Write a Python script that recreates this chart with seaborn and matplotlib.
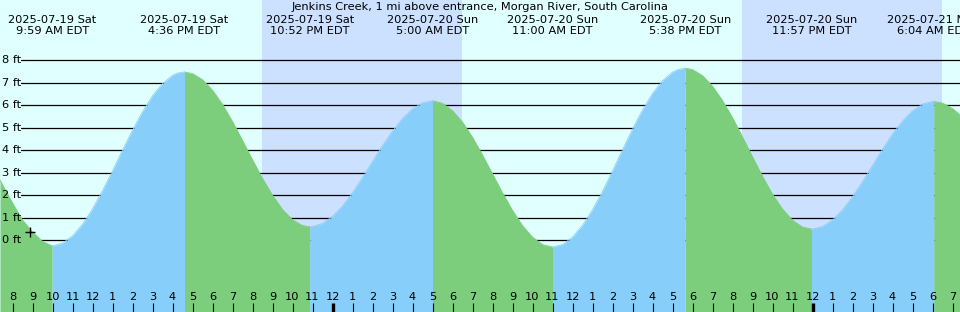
import numpy as np
import pandas as pd
import seaborn as sns
import matplotlib
matplotlib.use("Agg")
import matplotlib.pyplot as plt

title = "Jenkins Creek, 1 mi above entrance, Morgan River, South Carolina"

# hours after 2025-07-19 00:00 EDT, tide height in ft
hours = [7.375, 7.5, 8, 8.5, 9, 9.5, 9.983, 10, 10.5, 11, 11.5, 12, 12.5, 13,
         13.5, 14, 14.5, 15, 15.5, 16, 16.25, 16.6, 17, 17.5, 18, 18.5, 19,
         19.5, 20, 20.5, 21, 21.5, 22, 22.5, 22.867, 23, 23.5, 24, 24.5, 25,
         25.5, 26, 26.5, 27, 27.5, 28, 28.5, 29, 29.5, 30, 30.5, 31, 31.5, 32,
         32.5, 33, 33.5, 34, 34.5, 35, 35.5, 36, 36.5, 37, 37.5, 38, 38.5, 39,
         39.5, 40, 40.5, 41, 41.25, 41.633, 42, 42.5, 43, 43.5, 44, 44.5, 45,
         45.5, 46, 46.5, 47, 47.5, 47.95, 48, 48.5, 49, 49.5, 50, 50.5, 51,
         51.5, 52, 52.5, 53, 53.5, 54, 54.067, 54.5, 55, 55.375]
heights = [2.68, 2.47, 1.66, 0.90, 0.37, -0.05, -0.25, -0.25, -0.13, 0.19, 0.71,
           1.39, 2.20, 3.08, 4.00, 4.89, 5.71, 6.42, 6.96, 7.33, 7.43, 7.48,
           7.41, 7.14, 6.67, 6.04, 5.28, 4.44, 3.58, 2.75, 2.00, 1.37, 0.91,
           0.66, 0.60, 0.61, 0.75, 1.06, 1.52, 2.11, 2.78, 3.50, 4.20, 4.85,
           5.41, 5.84, 6.11, 6.20, 6.09, 5.76, 5.25, 4.58, 3.79, 2.95, 2.11,
           1.33, 0.65, 0.14, -0.19, -0.30, -0.19, 0.14, 0.66, 1.35, 2.17, 3.08,
           4.02, 4.94, 5.79, 6.52, 7.09, 7.47, 7.58, 7.65, 7.59, 7.32, 6.85,
           6.21, 5.45, 4.59, 3.71, 2.84, 2.05, 1.39, 0.89, 0.59, 0.50, 0.50,
           0.61, 0.90, 1.35, 1.93, 2.60, 3.32, 4.04, 4.72, 5.30, 5.75, 6.05,
           6.17, 6.17, 6.10, 5.86, 5.57]

extreme_hours = [9.983, 16.6, 22.867, 29.0, 35.0, 41.633, 47.95, 54.067]
extreme_dates = ["2025-07-19 Sat", "2025-07-19 Sat", "2025-07-19 Sat",
                 "2025-07-20 Sun", "2025-07-20 Sun", "2025-07-20 Sun",
                 "2025-07-20 Sun", "2025-07-21 Mon"]
extreme_times = ["9:59 AM EDT", "4:36 PM EDT", "10:52 PM EDT", "5:00 AM EDT",
                 "11:00 AM EDT", "5:38 PM EDT", "11:57 PM EDT", "6:04 AM EDT"]

sunsets = [20.475, 44.475]
sunrises = [30.475, 54.475]
now_hour, now_height = 8.88, 0.38
levels = [0, 1, 2, 3, 4, 5, 6, 7, 8]

day_color = "#e0ffff"
night_color = "#cce0ff"
rise_color = "#87cefa"
fall_color = "#7ccd7c"

x0, x1 = hours[0], hours[-1]
y0, y1 = -3.187, 10.68

sns.set_theme(style="white")
plt.rcParams["font.family"] = ["DejaVu Sans"]
plt.rcParams["text.color"] = "black"

fig = plt.figure(figsize=(9.6, 3.12), dpi=100, facecolor=day_color)
ax = fig.add_axes([0, 0, 1, 1])
ax.set_axis_off()
ax.set_xlim(x0, x1)
ax.set_ylim(y0, y1)

for s, r in zip(sunsets, sunrises):
    ax.axvspan(s, r, color=night_color, lw=0, zorder=0)

for lv in levels:
    ax.axhline(lv, xmin=21 / 960, xmax=1, color="black", lw=0.9, zorder=1)
    ax.text(x0 + 0.1, lv, f"{lv} ft", fontsize=8.2, va="center", ha="left",
            color="black", zorder=5)

# split curve into rising / falling pieces at the extremes
t = np.array(hours)
h = np.array(heights)
bounds = [x0] + extreme_hours + [x1]
rows = []
for i in range(len(bounds) - 1):
    m = (t >= bounds[i]) & (t <= bounds[i + 1])
    rising = i % 2 == 1
    col = rise_color if rising else fall_color
    ax.fill_between(t[m], h[m], y0, color=col, lw=0, zorder=2)
    for a, b in zip(t[m], h[m]):
        rows.append({"hour": a, "ft": b, "seg": i,
                     "phase": "rise" if rising else "fall"})
df = pd.DataFrame(rows)
sns.lineplot(data=df, x="hour", y="ft", hue="phase", units="seg",
             estimator=None, sort=False, lw=0.6, legend=False, ax=ax,
             palette={"rise": rise_color, "fall": fall_color}, zorder=3)

ax.plot([now_hour], [now_height], marker="+", color="black", ms=7, mew=1,
        zorder=4)

# hour ticks along the bottom
for hr in range(int(np.ceil(x0)), int(np.floor(x1)) + 1):
    lab = str((hr - 1) % 12 + 1)
    ax.text(hr, -2.54, lab, fontsize=8.2, ha="center", va="center",
            color="black", zorder=4)
    ax.vlines(hr, y0, -2.79, color="black", lw=2.4 if hr % 24 == 0 else 0.8,
              zorder=4)

ax.text((x0 + x1) / 2, 10.35, title, fontsize=8.2, ha="center", va="center",
        color="black")
for hx, d, tm in zip(extreme_hours, extreme_dates, extreme_times):
    ax.text(hx, 9.81, d, fontsize=8.2, ha="center", va="center", color="black")
    ax.text(hx, 9.28, tm, fontsize=8.2, ha="center", va="center", color="black")

fig.savefig("out.png", dpi=100, facecolor=day_color)
